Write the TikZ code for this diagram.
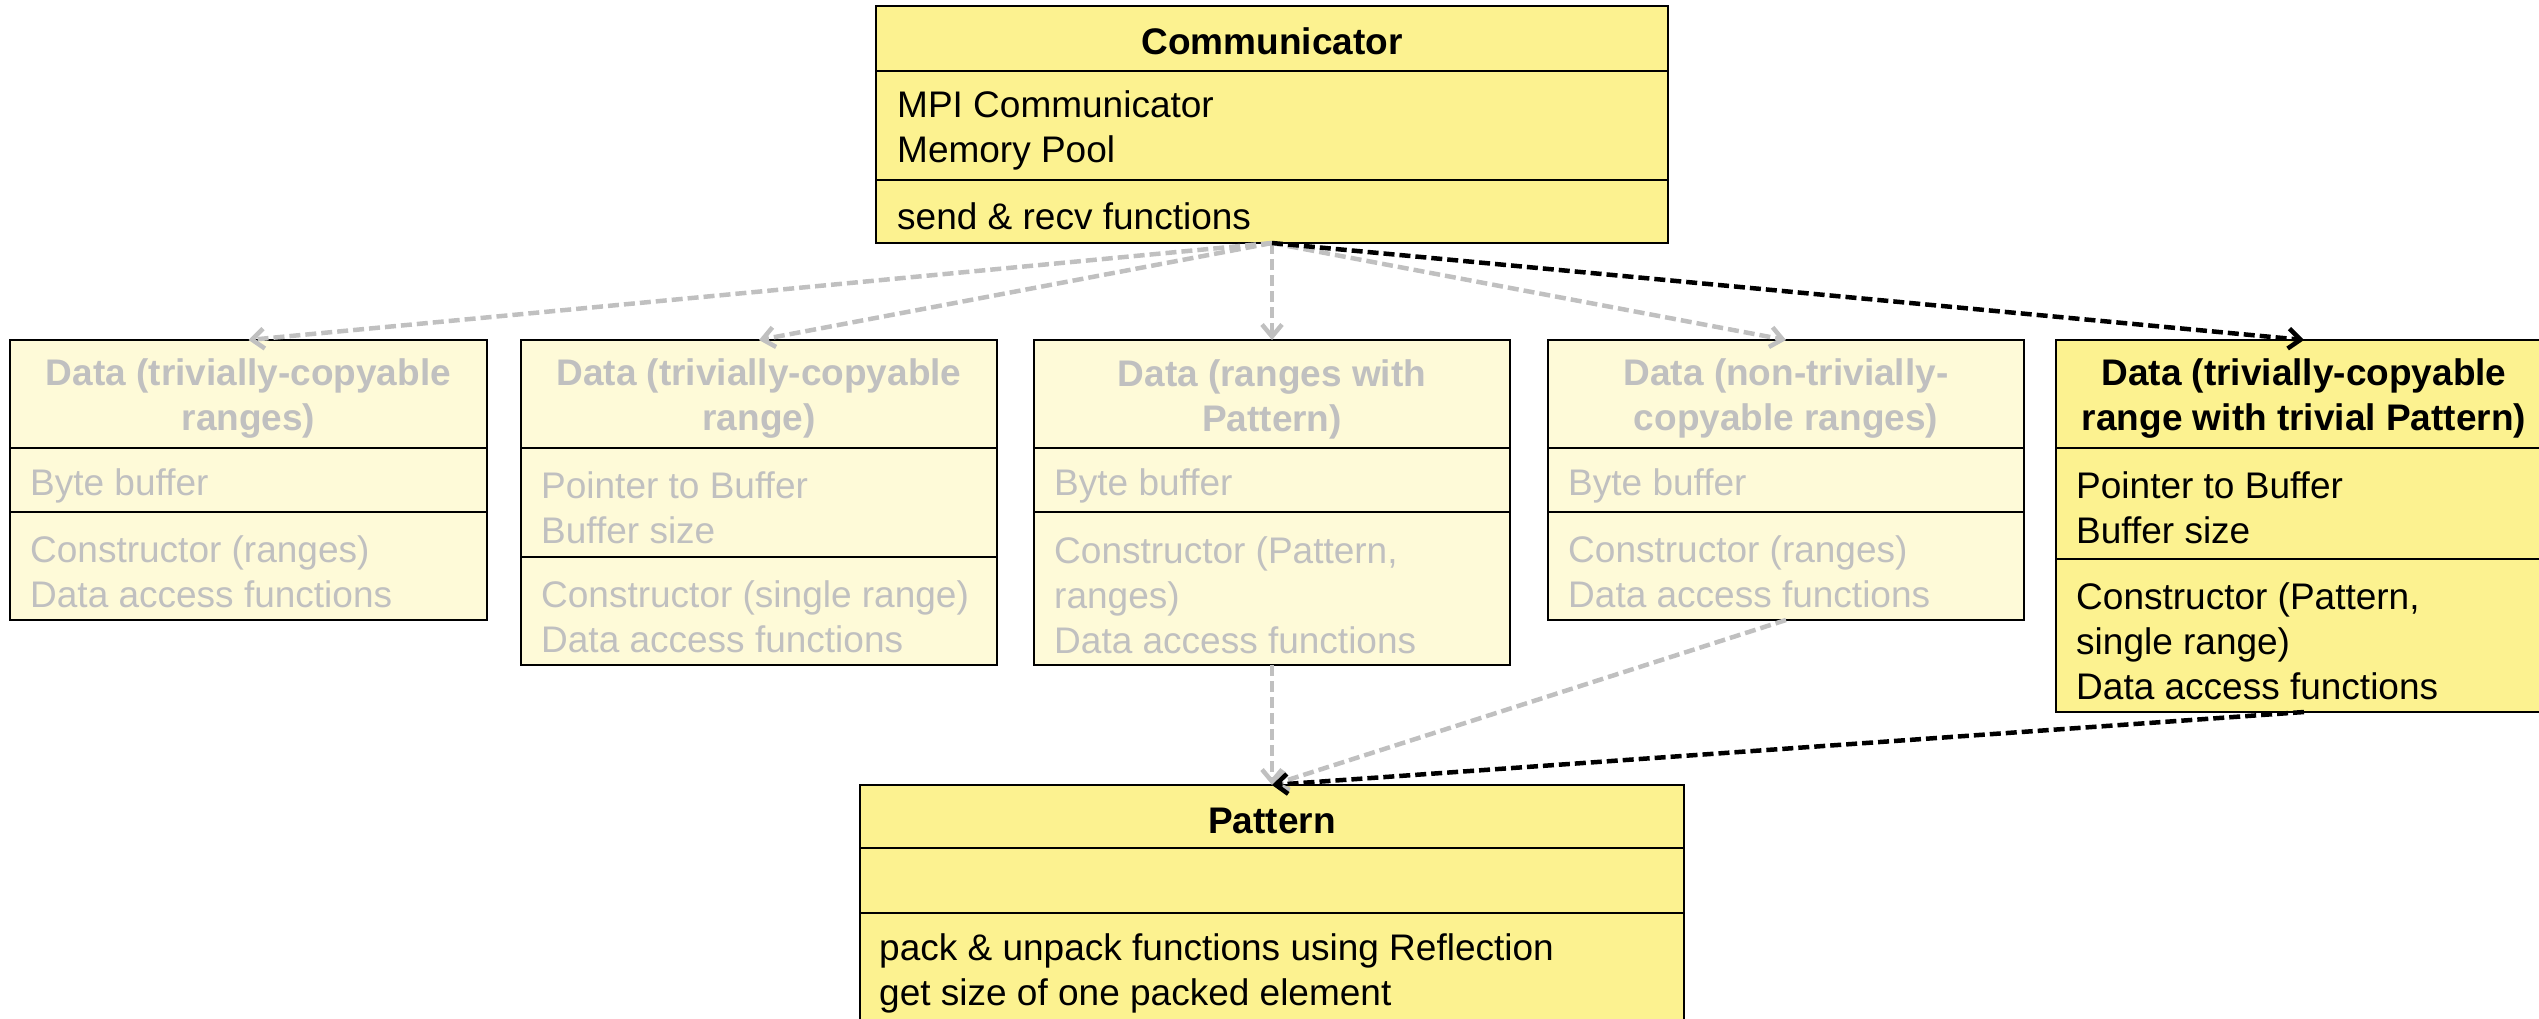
\documentclass[tikz,border=0pt]{standalone}
\usepackage{fontspec}
\setmainfont{Liberation Sans}
\usetikzlibrary{arrows.meta}
\definecolor{boxyellow}{RGB}{252,242,144}
\definecolor{paleyellow}{RGB}{254,250,216}
\definecolor{fadegray}{RGB}{192,192,192}
\tikzset{
  cls/.style={draw=black, line width=2.7pt, fill=boxyellow, inner sep=0pt, outer sep=0pt},
  faded/.style={cls, fill=paleyellow},
  sepline/.style={draw=black, line width=2.7pt},
  ttl/.style={font=\fontsize{37}{45}\selectfont\bfseries, align=center, inner sep=0pt},
  txt/.style={font=\fontsize{37}{45}\selectfont, align=left, inner sep=0pt, anchor=west},
  fade/.style={text=fadegray},
  dep/.style={line width=4.5pt, dash pattern=on 11pt off 5pt, -{Straight Barb[length=12pt,width=20pt]}},
  depgray/.style={dep, draw=fadegray},
}
\begin{document}
\begin{tikzpicture}[x=1pt,y=-1pt]
\useasboundingbox (0,0) rectangle (2539,1018);

% Communicator
\node[cls, minimum width=792pt, minimum height=237pt] (comm) at (1272,124.5) {};
\draw[sepline] (comm.west |- 0,71) -- (comm.east |- 0,71);
\draw[sepline] (comm.west |- 0,180) -- (comm.east |- 0,180);
\node[ttl] (commT) at (1272,41) {Communicator};
\node[txt] (commA) at (897,130) {MPI Communicator\\Memory Pool};
\node[txt] (commM) at (897,216) {send \& recv functions};

% Data 1
\node[faded, minimum width=477pt, minimum height=280pt] (d1) at (248.5,480) {};
\draw[sepline] (d1.west |- 0,448) -- (d1.east |- 0,448);
\draw[sepline] (d1.west |- 0,512) -- (d1.east |- 0,512);
\node[ttl, fade] (d1T) at (248.5,399) {Data (trivially-copyable\\ranges)};
\node[txt, fade] (d1A) at (30,486) {Byte buffer};
\node[txt, fade] (d1M) at (30,572) {Constructor (ranges)\\Data access functions};

% Data 2
\node[faded, minimum width=476pt, minimum height=325pt] (d2) at (759,502.5) {};
\draw[sepline] (d2.west |- 0,448) -- (d2.east |- 0,448);
\draw[sepline] (d2.west |- 0,557) -- (d2.east |- 0,557);
\node[ttl, fade] (d2T) at (759,399) {Data (trivially-copyable\\range)};
\node[txt, fade] (d2A) at (541,508) {Pointer to Buffer\\Buffer size};
\node[txt, fade] (d2M) at (541,617) {Constructor (single range)\\Data access functions};

% Data 3
\node[faded, minimum width=476pt, minimum height=325pt] (d3) at (1272,502.5) {};
\draw[sepline] (d3.west |- 0,448) -- (d3.east |- 0,448);
\draw[sepline] (d3.west |- 0,512) -- (d3.east |- 0,512);
\node[ttl, fade] (d3T) at (1272,399) {Data (ranges with\\Pattern)};
\node[txt, fade] (d3A) at (1054,486) {Byte buffer};
\node[txt, fade] (d3M) at (1054,595) {Constructor (Pattern,\\ranges)\\Data access functions};

% Data 4
\node[faded, minimum width=476pt, minimum height=280pt] (d4) at (1786,480) {};
\draw[sepline] (d4.west |- 0,448) -- (d4.east |- 0,448);
\draw[sepline] (d4.west |- 0,512) -- (d4.east |- 0,512);
\node[ttl, fade] (d4T) at (1786,399) {Data (non-trivially-\\copyable ranges)};
\node[txt, fade] (d4A) at (1568,486) {Byte buffer};
\node[txt, fade] (d4M) at (1568,572) {Constructor (ranges)\\Data access functions};

% Data 5
\node[cls, minimum width=496pt, minimum height=372pt] (d5) at (2304,526) {};
\draw[sepline] (d5.west |- 0,448) -- (d5.east |- 0,448);
\draw[sepline] (d5.west |- 0,559) -- (d5.east |- 0,559);
\node[ttl] (d5T) at (2304,399) {Data (trivially-copyable\\range with trivial Pattern)};
\node[txt] (d5A) at (2076,508) {Pointer to Buffer\\Buffer size};
\node[txt] (d5M) at (2076,641) {Constructor (Pattern,\\single range)\\Data access functions};

% Pattern
\node[cls, minimum width=824pt, minimum height=236pt] (pat) at (1272,903) {};
\draw[sepline] (pat.west |- 0,848) -- (pat.east |- 0,848);
\draw[sepline] (pat.west |- 0,913) -- (pat.east |- 0,913);
\node[ttl] (patT) at (1272,821) {Pattern};
\node[txt] (patM) at (879,973) {pack \& unpack functions using Reflection\\get size of one packed element};

% Dependencies
\draw[depgray] (comm.south) -- (d1.north);
\draw[depgray] (comm.south) -- (d2.north);
\draw[depgray] (comm.south) -- (d3.north);
\draw[depgray] (comm.south) -- (d4.north);
\draw[dep] (comm.south) -- (d5.north);
\draw[depgray] (d3.south) -- (pat.north);
\draw[depgray] (d4.south) -- (pat.north);
\draw[dep] (d5.south) -- (pat.north);
\end{tikzpicture}
\end{document}
